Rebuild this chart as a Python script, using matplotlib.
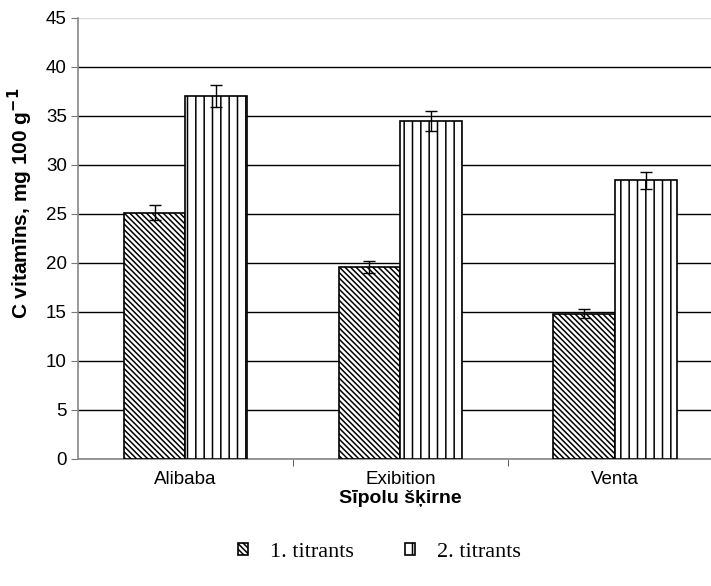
import matplotlib
matplotlib.use("Agg")
import matplotlib.pyplot as plt
import numpy as np

plt.rcParams['font.family'] = ['Liberation Sans', 'DejaVu Sans']
plt.rcParams['hatch.linewidth'] = 1.1

# data
skirnes = ["Alibaba", "Exibition", "Venta"]
titrants1 = [25.1, 19.6, 14.8]
titrants1_err = [0.75, 0.6, 0.45]
titrants2 = [37.0, 34.45, 28.4]
titrants2_err = [1.15, 1.05, 0.85]

fig = plt.figure(figsize=(7.11, 5.86), dpi=100)
ax = fig.add_axes([0.1097, 0.2172, 0.907, 0.7526])

x = np.arange(len(skirnes))
w = 0.288
err_style = dict(ecolor="black", elinewidth=1, capsize=4.3, capthick=1)
b1 = ax.bar(x - w / 2, titrants1, w, yerr=titrants1_err, color="white",
            edgecolor="black", linewidth=1.2, hatch="\\" * 6, error_kw=err_style,
            label="1. titrants", zorder=3)
b2 = ax.bar(x + w / 2, titrants2, w, yerr=titrants2_err, color="white",
            edgecolor="black", linewidth=1.2, hatch="||", error_kw=err_style,
            label="2. titrants", zorder=3)

ax.set_xlim(-0.5, 2.5)
ax.set_ylim(0, 45)
ax.set_yticks(np.arange(0, 50, 5))
ax.yaxis.grid(True, color="black", linewidth=1, zorder=0)
ax.set_axisbelow(True)
gl = ax.get_ygridlines()
gl[-1].set_color("#dddddd")

ax.set_xticks(x)
ax.set_xticklabels(skirnes)
ax.set_xticks([0.5, 1.5], minor=True)
ax.tick_params(axis="x", which="major", length=0, labelsize=13.5, pad=9)
ax.tick_params(axis="x", which="minor", length=5, color="#444444", direction="out")
ax.tick_params(axis="y", length=5, color="#777777", labelsize=13.5, pad=3)

for s in ["top", "right"]:
    ax.spines[s].set_visible(False)
ax.spines["left"].set_color("#888888")
ax.spines["bottom"].set_color("#888888")
ax.spines["left"].set_linewidth(1.2)
ax.spines["bottom"].set_linewidth(1.2)

ax.set_xlabel("Sīpolu šķirne", fontsize=14, fontweight="bold", labelpad=1)
ax.set_ylabel("C vitamīns, mg 100 g$^{\\mathbf{-1}}$", fontsize=15,
              fontweight="bold")
ax.yaxis.set_label_coords(-0.066, 0.58)

fig.legend(handles=[b1, b2], loc="center", bbox_to_anchor=(0.534, 0.058),
           ncol=2, frameon=False, handlelength=0.45, handleheight=0.45,
           handletextpad=1.0, columnspacing=2.3,
           prop={"family": "Liberation Serif", "size": 16})

fig.savefig("out.png", dpi=100)
